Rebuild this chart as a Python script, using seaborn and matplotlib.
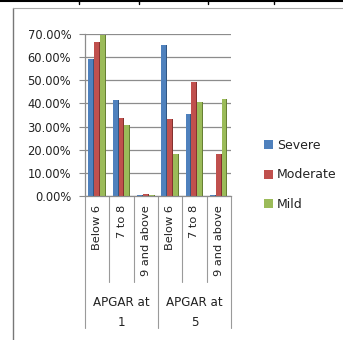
import matplotlib
matplotlib.use("Agg")
import matplotlib.pyplot as plt
from matplotlib.lines import Line2D
from matplotlib.transforms import blended_transform_factory
import seaborn as sns
import pandas as pd

# APGAR score bands at 1 and 5 minutes, split by severity
groups = ["APGAR at\n1", "APGAR at\n5"]
bands = ["Below 6", "7 to 8", "9 and above"]
severity = ["Severe", "Moderate", "Mild"]

severe = [0.592, 0.414, 0.003, 0.652, 0.355, 0.003]
moderate = [0.664, 0.335, 0.010, 0.332, 0.494, 0.182]
mild = [0.697, 0.306, 0.005, 0.183, 0.408, 0.417]

palette = ["#4F81BD", "#C0504D", "#9BBB59"]

slots = [f"{g}|{b}" for g in groups for b in bands]
rows = []
for name, vals in zip(severity, [severe, moderate, mild]):
    for s, v in zip(slots, vals):
        rows.append({"slot": s, "severity": name, "share": v})
df = pd.DataFrame(rows)

sns.set_theme(style="white")
plt.rcParams["font.family"] = ["DejaVu Sans"]

fig = plt.figure(figsize=(3.43, 3.40), dpi=100)
ax = fig.add_axes([0.248, 0.4235, 0.425, 0.4765])

sns.barplot(data=df, x="slot", y="share", hue="severity", order=slots,
            hue_order=severity, palette=palette, width=0.72, saturation=1,
            edgecolor="none", ax=ax, legend=True)

# darker right-hand face on each bar for a bit of depth
for cont, col in zip(ax.containers, palette):
    for p in cont.patches:
        x0 = p.get_x()
        w = p.get_width()
        ax.bar(x0 + w * 0.82, p.get_height(), width=w * 0.18, align="edge",
               color=sns.set_hls_values(col, l=0.35), linewidth=0, zorder=3)

ax.set_ylim(0, 0.70)
ax.set_xlim(-0.5, len(slots) - 0.5)
ticks = [i / 10 for i in range(8)]
ax.set_yticks(ticks)
ax.set_yticklabels([f"{t * 100:.2f}%" for t in ticks], fontsize=8.3, color="#222222")
ax.yaxis.grid(True, color="#8c8c8c", linewidth=0.9)
ax.set_axisbelow(True)
ax.tick_params(axis="y", left=True, length=4, width=0.8, color="#8c8c8c", pad=6)
ax.set_xlabel("")
ax.set_ylabel("")
for side in ["top", "right"]:
    ax.spines[side].set_visible(False)
ax.spines["left"].set_color("#8c8c8c")
ax.spines["bottom"].set_color("#8c8c8c")
ax.spines["left"].set_linewidth(0.9)
ax.spines["bottom"].set_linewidth(0.9)

# category labels and divider lines below the axis
ax.set_xticks(range(len(slots)))
ax.set_xticklabels([])
ax.tick_params(axis="x", bottom=False)
trans = blended_transform_factory(ax.transData, ax.transAxes)
h_px = 0.4765 * 340
def ypx(px):
    return -px / h_px
for i, s in enumerate(slots):
    ax.text(i, ypx(9), s.split("|")[1], rotation=90, ha="center", va="top",
            fontsize=8.2, color="#222222", transform=trans)
for k in range(len(slots) + 1):
    edge = k % len(bands) == 0
    ax.add_line(Line2D([k - 0.5, k - 0.5], [0, ypx(132 if edge else 86)],
                       color="#9a9a9a", linewidth=0.8, transform=trans, clip_on=False))
for j, g in enumerate(groups):
    ax.text(j * len(bands) + 1, ypx(116), g, ha="center", va="center",
            fontsize=8.6, color="#222222", linespacing=1.7, transform=trans)

leg = ax.legend(loc="center left", bbox_to_anchor=(1.15, 0.13), frameon=False,
                fontsize=9, handlelength=0.75, handleheight=0.75,
                handletextpad=0.3, labelspacing=1.3)
for t in leg.get_texts():
    t.set_color("#222222")

# surrounding frame lines
fig.add_artist(Line2D([13 / 343, 13 / 343], [1 - 8 / 340, 0], color="#777777", linewidth=1.0))
fig.add_artist(Line2D([13 / 343, 1], [1 - 8 / 340, 1 - 8 / 340], color="#aaaaaa", linewidth=0.8))
fig.add_artist(Line2D([0, 1], [1 - 0.5 / 340, 1 - 0.5 / 340], color="#000000", linewidth=1.5))
for xp in [79, 139, 208, 274]:
    fig.add_artist(Line2D([xp / 343, xp / 343], [1, 1 - 4 / 340], color="#000000", linewidth=1.0))

fig.savefig("out.png", dpi=100)
